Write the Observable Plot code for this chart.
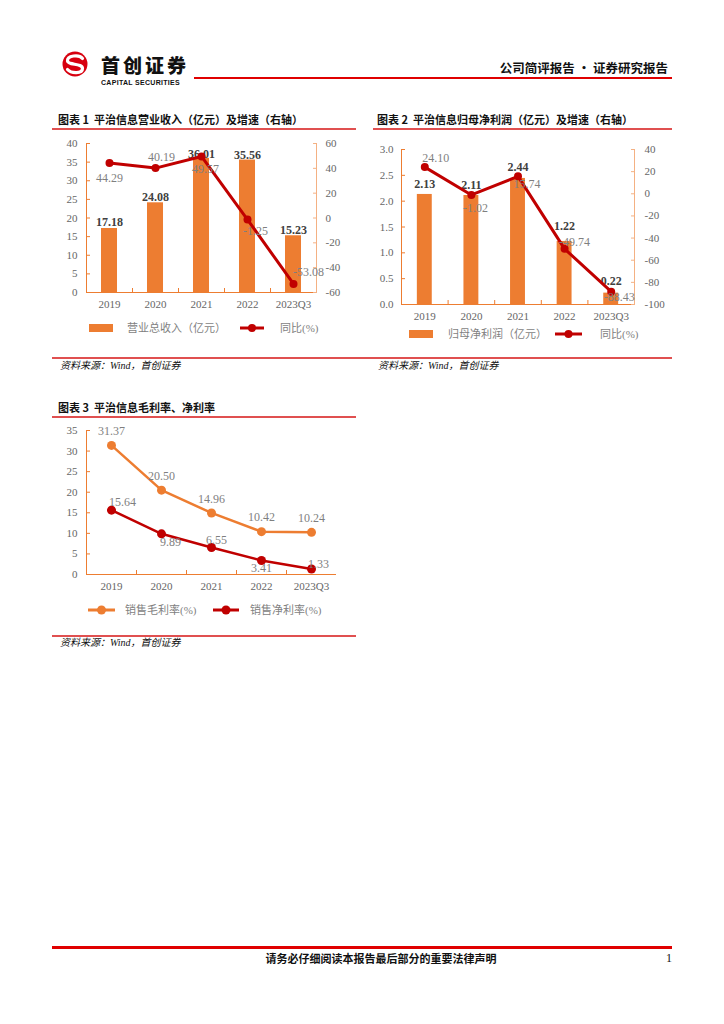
<!DOCTYPE html>
<html><head><meta charset="utf-8">
<script src="https://cdn.jsdelivr.net/npm/d3@7"></script>
<script src="https://cdn.jsdelivr.net/npm/@observablehq/plot@0.6"></script>
<style>
body{margin:0;background:#fff;}
#page{position:relative;width:724px;height:1024px;overflow:hidden;background:#fff;font-family:"Noto Sans CJK SC",sans-serif;}
</style></head>
<body><div id="page"></div>
<script>
// ---- data ----
const years = ["2019", "2020", "2021", "2022", "2023Q3"];
const revenue = [17.18, 24.08, 36.01, 35.56, 15.23];          // 营业总收入（亿元）
const revenueYoY = [44.29, 40.19, 49.57, -1.25, -53.08];      // 同比(%)
const netProfit = [2.13, 2.11, 2.44, 1.22, 0.22];             // 归母净利润（亿元）
const netProfitYoY = [24.10, -1.02, 15.74, -49.74, -88.43];   // 同比(%)
const grossMargin = [31.37, 20.50, 14.96, 10.42, 10.24];      // 销售毛利率(%)
const netMargin = [15.64, 9.89, 6.55, 3.41, 1.33];            // 销售净利率(%)
const ticksRev = [0, 5, 10, 15, 20, 25, 30, 35, 40];
const ticksRevYoY = [-60, -40, -20, 0, 20, 40, 60];
const ticksProfit = [0, 0.5, 1.0, 1.5, 2.0, 2.5, 3.0];
const ticksProfitYoY = [-100, -80, -60, -40, -20, 0, 20, 40];
const ticksMargin = [0, 5, 10, 15, 20, 25, 30, 35];

// ---- styles ----
const ORANGE = "#ED7D31", RED = "#C00000", AX = "#ED7D31", AX2 = "#F4B183";
const LABEL = "#7f7f7f", AXTXT = "#666666", BARTXT = "#404040", RULE = "#E05050";
const SERIF = '"Liberation Serif", "Noto Sans CJK SC", serif';
const SERIF_CSS = "'Liberation Serif','Noto Sans CJK SC',serif";

const page = document.getElementById("page");
function addText(x, y, str, css, anchor = "start") {
  const d = document.createElement("div");
  d.textContent = str;
  const tx = anchor === "end" ? "-100%" : anchor === "middle" ? "-50%" : "0";
  d.style.cssText = `position:absolute;left:${x}px;top:${y}px;white-space:pre;line-height:1;transform:translate(${tx},-50%);${css}`;
  page.appendChild(d);
  return d;
}
function addLine(x1, x2, y, t, c) {
  const d = document.createElement("div");
  d.style.cssText = `position:absolute;left:${x1}px;top:${y - t / 2}px;width:${x2 - x1}px;height:${t}px;background:${c};`;
  page.appendChild(d);
}
function addHTML(html) {
  const d = document.createElement("div");
  d.innerHTML = html;
  const e = d.firstElementChild;
  page.appendChild(e);
  return e;
}
function place(svg, left, top) {
  svg.style.position = "absolute";
  svg.style.left = left + "px";
  svg.style.top = top + "px";
  page.appendChild(svg);
}
const baseStyle = {fontFamily: SERIF, fontSize: "11px", background: "transparent", overflow: "visible", color: AXTXT};

// ---- header ----
addHTML(`<svg style="position:absolute;left:60px;top:49px" width="30" height="30" viewBox="-15 -15 30 30">
  <circle r="12.5" fill="#D7000F"/>
  <path d="M7.5,-5.5 C4,-10 -8,-8.5 -7.5,-3 C-7,1.5 7.5,-1 7.5,4.5 C7.5,10 -4,9.5 -7.5,5.5" fill="none" stroke="#fff" stroke-width="3.2" stroke-linecap="round"/>
</svg>`);
addText(101, 64, "首创证券", "font-size:19px;font-weight:900;color:#111;letter-spacing:3px;");
addText(101, 81.5, "CAPITAL SECURITIES", "font-family:'Liberation Sans',Arial,sans-serif;font-size:7px;font-weight:bold;color:#111;letter-spacing:0.3px;");
addLine(194, 672, 78, 2.5, "#E00000");
addText(668, 68, "公司简评报告 · 证券研究报告", "font-size:12.5px;font-weight:bold;color:#111;", "end");

// ---- titles / rules ----
const TITLE = "font-size:11px;font-weight:bold;color:#111;";
addText(58, 119, "图表 1  平治信息营业收入（亿元）及增速（右轴）", TITLE);
addLine(52, 356, 129, 1.5, RULE);
addText(377, 119, "图表 2  平治信息归母净利润（亿元）及增速（右轴）", TITLE);
addLine(373, 672, 129, 1.5, RULE);
addText(58, 407, "图表 3  平治信息毛利率、净利率", TITLE);
addLine(52, 356, 417, 1.5, RULE);

const SRC = `font-size:10px;font-style:italic;color:#111;font-family:${SERIF_CSS};`;
addLine(52, 672, 358, 1.5, RULE);
addText(60, 366, "资料来源：Wind，首创证券", SRC);
addText(378, 366, "资料来源：Wind，首创证券", SRC);
addLine(52, 356, 636, 1.5, RULE);
addText(60, 643, "资料来源：Wind，首创证券", SRC);

// ---- footer ----
addLine(52, 672, 947, 3, "#E00000");
addText(381, 958, "请务必仔细阅读本报告最后部分的重要法律声明", "font-size:11px;font-weight:bold;color:#111;", "middle");
addText(669, 958, "1", "font-size:12px;font-family:'Liberation Serif',serif;color:#111;", "middle");

// ---- helpers for charts ----
const idx = years.map((_, i) => i);
function xAxes(axisColor, pad) {
  return [
    Plot.axisX(idx, {anchor: "bottom", label: null, tickSize: 0, tickPadding: pad, tickFormat: i => years[i], fill: AXTXT, fontSize: 11}),
    Plot.axisX(idx.slice(0, -1).map(i => i + 0.5), {anchor: "bottom", label: null, tickSize: -4, tickFormat: () => "", stroke: axisColor})
  ];
}
function labels(rows, key, offsets, fmt, opts) {
  return rows.map((d, i) => Plot.text([d], {x: "i", y: key, text: fmt, dx: offsets[i][0], dy: offsets[i][1], ...opts}));
}
const legendText = `font-size:11px;color:${LABEL};font-family:${SERIF_CSS};`;

// ---- chart 1 ----
{
  const rows = idx.map(i => ({i, v: revenue[i], g: revenueYoY[i]}));
  const dims = {width: 310, height: 180, marginLeft: 36, marginRight: 44, marginTop: 8, marginBottom: 23};
  const barOff = [[0, -6], [0, -6], [0, -4], [0, -5], [0, -6]];
  const lineOff = [[0, 15], [6, -11], [4, 13], [8, 12], [15, -12]];
  const bars = Plot.plot({
    ...dims, style: baseStyle,
    x: {type: "linear", domain: [-0.5, 4.5], axis: null},
    y: {domain: [0, 40], axis: null},
    marks: [
      Plot.rect(rows, {x1: d => d.i - 0.174, x2: d => d.i + 0.174, y1: 0, y2: "v", fill: ORANGE}),
      Plot.ruleX([-0.5], {stroke: AX}),
      Plot.ruleY([0], {stroke: AX}),
      Plot.axisY(ticksRev, {anchor: "left", label: null, tickSize: -4, tickPadding: 13, stroke: AX, fill: AXTXT, tickFormat: d => String(d)}),
      ...xAxes(AX, 8),
      ...labels(rows, "v", barOff, d => d.v.toFixed(2), {fill: BARTXT, fontWeight: "bold", fontSize: 12})
    ]
  });
  const line = Plot.plot({
    ...dims, style: baseStyle,
    x: {type: "linear", domain: [-0.5, 4.5], axis: null},
    y: {domain: [-60, 60], axis: null},
    marks: [
      Plot.ruleX([4.5], {stroke: AX2}),
      Plot.axisY(ticksRevYoY, {anchor: "right", label: null, tickSize: -4, tickPadding: 13, stroke: AX2, fill: AXTXT, tickFormat: d => String(d)}),
      Plot.line(rows, {x: "i", y: "g", stroke: RED, strokeWidth: 3}),
      Plot.dot(rows, {x: "i", y: "g", r: 4, fill: RED}),
      ...labels(rows, "g", lineOff, d => d.g.toFixed(2), {fill: LABEL, fontSize: 12})
    ]
  });
  place(bars, 50, 135);
  place(line, 50, 135);
  addHTML(`<svg style="position:absolute;left:85px;top:320px" width="40" height="16"><rect x="4" y="4" width="24" height="8" fill="${ORANGE}"/></svg>`);
  addText(127, 328, "营业总收入（亿元）", legendText);
  addHTML(`<svg style="position:absolute;left:236px;top:320px" width="32" height="16"><line x1="4" x2="28" y1="8" y2="8" stroke="${RED}" stroke-width="3"/><circle cx="16" cy="8" r="4" fill="${RED}"/></svg>`);
  addText(280, 328, "同比(%)", legendText);
}

// ---- chart 2 ----
{
  const rows = idx.map(i => ({i, v: netProfit[i], g: netProfitYoY[i]}));
  const dims = {width: 310, height: 185, marginLeft: 31, marginRight: 46, marginTop: 9, marginBottom: 21};
  const barOff = [[0, -10], [0, -10], [0, -11], [0, -15], [0, -12]];
  const lineOff = [[11, -9], [4, 13], [9, 8], [10, -7], [8, 5]];
  const bars = Plot.plot({
    ...dims, style: baseStyle,
    x: {type: "linear", domain: [-0.5, 4.5], axis: null},
    y: {domain: [0, 3], axis: null},
    marks: [
      Plot.rect(rows, {x1: d => d.i - 0.16, x2: d => d.i + 0.16, y1: 0, y2: "v", fill: ORANGE}),
      Plot.ruleX([-0.5], {stroke: AX}),
      Plot.ruleY([0], {stroke: AX}),
      Plot.axisY(ticksProfit, {anchor: "left", label: null, tickSize: -4, tickPadding: 12, stroke: AX, fill: AXTXT, tickFormat: d => d.toFixed(1)}),
      ...xAxes(AX, 8),
      ...labels(rows, "v", barOff, d => d.v.toFixed(2), {fill: BARTXT, fontWeight: "bold", fontSize: 12})
    ]
  });
  const line = Plot.plot({
    ...dims, style: baseStyle,
    x: {type: "linear", domain: [-0.5, 4.5], axis: null},
    y: {domain: [-100, 40], axis: null},
    marks: [
      Plot.ruleX([4.5], {stroke: AX2}),
      Plot.axisY(ticksProfitYoY, {anchor: "right", label: null, tickSize: -4, tickPadding: 14, stroke: AX2, fill: AXTXT, tickFormat: d => String(d)}),
      Plot.line(rows, {x: "i", y: "g", stroke: RED, strokeWidth: 3}),
      Plot.dot(rows, {x: "i", y: "g", r: 4, fill: RED}),
      ...labels(rows, "g", lineOff, d => d.g.toFixed(2), {fill: LABEL, fontSize: 12})
    ]
  });
  place(bars, 370, 140);
  place(line, 370, 140);
  addHTML(`<svg style="position:absolute;left:405px;top:326px" width="40" height="16"><rect x="4" y="4" width="24" height="8" fill="${ORANGE}"/></svg>`);
  addText(448, 334, "归母净利润（亿元）", legendText);
  addHTML(`<svg style="position:absolute;left:552px;top:326px" width="34" height="16"><line x1="3" x2="30" y1="8" y2="8" stroke="${RED}" stroke-width="3"/><circle cx="16.5" cy="8" r="4" fill="${RED}"/></svg>`);
  addText(600, 334, "同比(%)", legendText);
}

// ---- chart 3 ----
{
  const rows = idx.map(i => ({i, a: grossMargin[i], b: netMargin[i]}));
  const dims = {width: 310, height: 175, marginLeft: 36, marginRight: 24, marginTop: 8, marginBottom: 23};
  const grossOff = [[0, -14], [0, -14], [0, -14], [0, -14], [0, -14]];
  const netOff = [[11, -8], [9, 8], [5, -7], [0, 8], [7, -5]];
  const chart = Plot.plot({
    ...dims, style: baseStyle,
    x: {type: "linear", domain: [-0.5, 4.5], axis: null},
    y: {domain: [0, 35], axis: null},
    marks: [
      Plot.ruleX([-0.5], {stroke: AX}),
      Plot.ruleY([0], {stroke: AX}),
      Plot.axisY(ticksMargin, {anchor: "left", label: null, tickSize: -4, tickPadding: 13, stroke: AX, fill: AXTXT, tickFormat: d => String(d)}),
      ...xAxes(AX, 8),
      Plot.line(rows, {x: "i", y: "a", stroke: ORANGE, strokeWidth: 2.5}),
      Plot.dot(rows, {x: "i", y: "a", r: 4.5, fill: ORANGE}),
      Plot.line(rows, {x: "i", y: "b", stroke: RED, strokeWidth: 2.5}),
      Plot.dot(rows, {x: "i", y: "b", r: 4.5, fill: RED}),
      ...labels(rows, "a", grossOff, d => d.a.toFixed(2), {fill: LABEL, fontSize: 12}),
      ...labels(rows, "b", netOff, d => d.b.toFixed(2), {fill: LABEL, fontSize: 12})
    ]
  });
  place(chart, 50, 422);
  addHTML(`<svg style="position:absolute;left:84px;top:602px" width="36" height="16"><line x1="4" x2="31" y1="8" y2="8" stroke="${ORANGE}" stroke-width="3"/><circle cx="17.5" cy="8" r="4.5" fill="${ORANGE}"/></svg>`);
  addText(125, 610, "销售毛利率(%)", legendText);
  addHTML(`<svg style="position:absolute;left:209px;top:602px" width="36" height="16"><line x1="4" x2="30" y1="8" y2="8" stroke="${RED}" stroke-width="3"/><circle cx="17" cy="8" r="4.5" fill="${RED}"/></svg>`);
  addText(250, 610, "销售净利率(%)", legendText);
}
</script>
</body></html>
